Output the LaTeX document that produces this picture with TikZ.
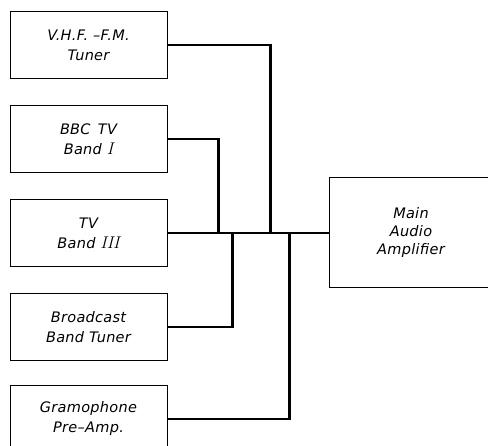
\documentclass[tikz,border=0pt]{standalone}
\usepackage{fontspec}
\usepackage{tikz}
\usetikzlibrary{positioning}
\newfontfamily\letterfont{DejaVu Sans}[LetterSpace=2]
\newcommand{\romnum}[1]{{\rmfamily\itshape\fontsize{17}{20}\selectfont #1}}

\begin{document}
\begin{tikzpicture}[
    x=1pt,y=-1pt,node distance=26pt,
    srcbox/.style={draw,line width=1pt,minimum width=157pt,minimum height=67pt,
      align=center,inner sep=0pt,font=\letterfont\itshape\fontsize{14.5}{20}\selectfont},
    ampbox/.style={srcbox,minimum width=164pt,minimum height=110pt,
      font=\letterfont\itshape\fontsize{14.5}{18}\selectfont},
    wire/.style={line width=2.2pt}]
  \clip (0,0) rectangle (488,446);
  \node[srcbox] (vhf) at (88.5,45) {V.H.F. –F.M.\\ Tuner};
  \node[srcbox,below=of vhf] (bbc) {BBC\, TV\\ Band \romnum{I}};
  \node[srcbox,below=of bbc] (tvb) {TV\\ Band \romnum{III}};
  \node[srcbox,below=of tvb] (bcast) {Broadcast\\ Band Tuner};
  \node[srcbox,below=of bcast,yshift=2pt] (gram) {Gramophone\\ Pre–Amp.};
  \node[ampbox,right=161pt of tvb] (amp) {Main\\ Audio\\ Amplifier};
  % joins on the common line into the amplifier
  \coordinate[right=51pt of tvb.east] (jbbc);
  \coordinate[right=65pt of tvb.east] (jbcast);
  \coordinate[right=103pt of tvb.east] (jvhf);
  \coordinate[right=122pt of tvb.east] (jgram);
  \draw[wire] (tvb.east) -- (amp.west);
  \draw[wire] (vhf.east) -| (jvhf);
  \draw[wire] (bbc.east) -| (jbbc);
  \draw[wire] (bcast.east) -| (jbcast);
  \draw[wire] (gram.east) -| (jgram);
\end{tikzpicture}
\end{document}
